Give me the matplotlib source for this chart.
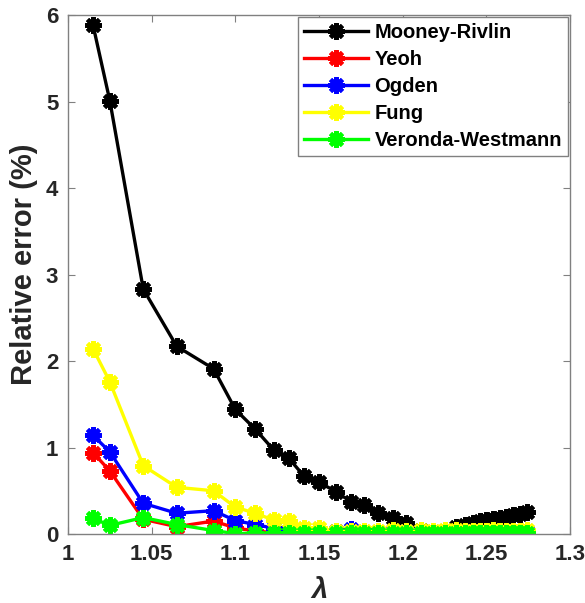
import matplotlib
matplotlib.use('Agg')
import matplotlib.pyplot as plt

plt.rcParams['font.family'] = ['Liberation Sans', 'DejaVu Sans']
plt.rcParams['font.weight'] = 'bold'

lam = [1.015, 1.025, 1.045, 1.065, 1.087, 1.100, 1.112, 1.123, 1.132, 1.141,
       1.150, 1.160, 1.169, 1.177, 1.185, 1.194, 1.202, 1.211, 1.218, 1.225,
       1.232, 1.237, 1.242, 1.246, 1.250, 1.254, 1.258, 1.262, 1.266, 1.270, 1.274]

mooney = [5.88, 5.01, 2.83, 2.17, 1.91, 1.44, 1.21, 0.97, 0.875, 0.67,
          0.60, 0.49, 0.375, 0.335, 0.243, 0.18, 0.124, 0.05, 0.02, 0.0,
          0.08, 0.10, 0.13, 0.15, 0.16, 0.17, 0.19, 0.20, 0.22, 0.23, 0.25]
yeoh = [0.94, 0.73, 0.17, 0.085, 0.15, 0.07, 0.035, 0.015, 0.01, 0.01,
        0.01, 0.005, 0.01, 0.02, 0.01, 0.005, 0.01, 0.01, 0.005, 0.01,
        0.01, 0.005, 0.01, 0.01, 0.005, 0.01, 0.01, 0.005, 0.01, 0.01, 0.01]
ogden = [1.14, 0.95, 0.355, 0.24, 0.27, 0.155, 0.11, 0.065, 0.04, 0.02,
         0.02, 0.03, 0.06, 0.02, 0.02, 0.02, 0.03, 0.02, 0.02, 0.02,
         0.02, 0.02, 0.03, 0.02, 0.02, 0.02, 0.02, 0.02, 0.02, 0.02, 0.02]
fung = [2.14, 1.76, 0.79, 0.54, 0.50, 0.31, 0.24, 0.16, 0.155, 0.065,
        0.065, 0.04, 0.04, 0.04, 0.04, 0.05, 0.04, 0.05, 0.04, 0.05,
        0.05, 0.04, 0.04, 0.04, 0.04, 0.05, 0.04, 0.04, 0.04, 0.04, 0.05]
veronda = [0.18, 0.10, 0.19, 0.11, 0.04, 0.005, 0.01, 0.01, 0.01, 0.01,
           0.01, 0.01, 0.01, 0.01, 0.01, 0.01, 0.01, 0.01, 0.01, 0.01,
           0.01, 0.01, 0.01, 0.01, 0.01, 0.01, 0.01, 0.01, 0.01, 0.01, 0.01]

names = ['Mooney-Rivlin', 'Yeoh', 'Ogden', 'Fung', 'Veronda-Westmann']
colors = ['black', 'red', 'blue', 'yellow', '#00ff00']
series = [mooney, yeoh, ogden, fung, veronda]

fig = plt.figure(figsize=(5.85, 6.03), dpi=100)
ax = fig.add_axes([0.1162, 0.1144, 0.8582, 0.8607])

for vals, name, c in zip(series, names, colors):
    ax.plot(lam, vals, color=c, linewidth=2.4, marker=(8, 2, 0),
            markersize=12, markeredgewidth=3, label=name)

ax.set_xlim(1, 1.3)
ax.set_ylim(0, 6)
ax.set_xticks([1, 1.05, 1.1, 1.15, 1.2, 1.25, 1.3])
ax.set_xticklabels(['1', '1.05', '1.1', '1.15', '1.2', '1.25', '1.3'])
ax.set_yticks(range(7))

gray = '#262626'
for s in ax.spines.values():
    s.set_color('#808080')
    s.set_linewidth(1.0)
ax.tick_params(direction='in', length=5, width=0.8, color='#808080',
               top=True, right=True, labelsize=16, labelcolor=gray, pad=7)
for t in ax.get_xticklabels() + ax.get_yticklabels():
    t.set_fontweight('bold')

ax.set_xlabel('λ', fontsize=21, color=gray, fontweight='bold',
              fontstyle='italic', labelpad=8)
ax.set_ylabel('Relative error (%)', fontsize=21, color=gray,
              fontweight='bold')
ax.yaxis.set_label_coords(-0.06, 0.52)

leg = ax.legend(loc='upper right', fontsize=14.5, fancybox=False, framealpha=1,
                edgecolor='#808080', handlelength=3.2, labelspacing=0.4,
                borderaxespad=0.1, handletextpad=0.3, borderpad=0.3)
leg.get_frame().set_linewidth(1.0)
for t in leg.get_texts():
    t.set_color('black')
    t.set_fontweight('bold')

fig.savefig('out.png', dpi=100)
